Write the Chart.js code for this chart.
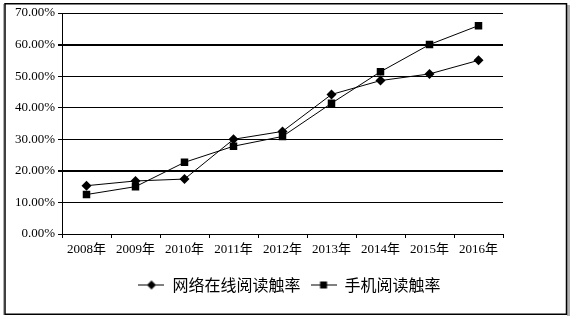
<!DOCTYPE html>
<html>
<head>
<meta charset="utf-8">
<script src="https://cdn.jsdelivr.net/npm/chart.js@4.4.1/dist/chart.umd.min.js"></script>
<style>
  html, body { margin: 0; padding: 0; background: #fff; }
  #c { display: block; }
</style>
</head>
<body>
<canvas id="c" width="579" height="319"></canvas>
<script>
const categories = ['2008年', '2009年', '2010年', '2011年', '2012年', '2013年', '2014年', '2015年', '2016年'];
const seriesNames = ['网络在线阅读触率', '手机阅读触率'];
const onlineReading = [15.3, 16.8, 17.4, 30.0, 32.5, 44.2, 48.6, 50.7, 55.0];
const mobileReading = [12.5, 15.0, 22.7, 27.8, 30.9, 41.4, 51.4, 60.0, 66.0];
const yTicks = [0, 10, 20, 30, 40, 50, 60, 70];

const SERIF = "'Liberation Serif', 'Noto Sans CJK SC', serif";
const CJK = "'Noto Sans CJK SC', sans-serif";

function legendIcon(kind) {
  const cv = document.createElement('canvas');
  cv.width = 26; cv.height = 11;
  const g = cv.getContext('2d');
  g.strokeStyle = '#000'; g.lineWidth = 1;
  g.beginPath(); g.moveTo(0, 5.5); g.lineTo(26, 5.5); g.stroke();
  g.fillStyle = '#000';
  if (kind === 'diamond') {
    g.beginPath(); g.moveTo(13, 1); g.lineTo(17.5, 5.5); g.lineTo(13, 10); g.lineTo(8.5, 5.5); g.closePath(); g.fill();
  } else {
    g.fillRect(9.5, 2, 7, 7);
  }
  return cv;
}
const icons = [legendIcon('diamond'), legendIcon('square')];

const framePlugin = {
  id: 'frame',
  beforeDraw(chart) {
    const c = chart.ctx;
    c.save();
    c.fillStyle = '#fff';
    c.fillRect(0, 0, chart.width, chart.height);
    c.restore();
  },
  afterDraw(chart) {
    const c = chart.ctx;
    c.save();
    c.fillStyle = '#b0b0b0';
    c.fillRect(567, 5, 3, 311);
    c.fillRect(3, 4, 1, 311);
    c.strokeStyle = '#000';
    c.lineWidth = 1.5;
    c.strokeRect(5, 3.75, 561.5, 310.5);
    c.restore();
  }
};

new Chart(document.getElementById('c'), {
  type: 'line',
  data: {
    labels: categories,
    datasets: [
      {
        label: seriesNames[0],
        data: onlineReading,
        borderColor: '#000',
        borderWidth: 1,
        backgroundColor: '#000',
        pointStyle: 'rectRot',
        pointRadius: 5,
        pointHoverRadius: 5,
        pointBackgroundColor: '#000',
        pointBorderColor: '#000',
        pointBorderWidth: 0,
        tension: 0,
        yAxisID: 'y'
      },
      {
        label: seriesNames[1],
        data: mobileReading,
        borderColor: '#000',
        borderWidth: 1,
        backgroundColor: '#000',
        pointStyle: 'rect',
        pointRadius: 5.3,
        pointHoverRadius: 5.3,
        pointBackgroundColor: '#000',
        pointBorderColor: '#000',
        pointBorderWidth: 0,
        tension: 0,
        yAxisID: 'y'
      }
    ]
  },
  options: {
    responsive: false,
    animation: false,
    events: [],
    layout: { padding: { left: 0, right: 0, top: 13, bottom: 16 } },
    plugins: {
      tooltip: { enabled: false },
      title: { display: false },
      legend: {
        display: true,
        position: 'bottom',
        align: 'center',
        labels: {
          usePointStyle: true,
          pointStyleWidth: 26,
          boxHeight: 11,
          padding: 10,
          color: '#000',
          font: { family: CJK, size: 16 },
          generateLabels(chart) {
            return chart.data.datasets.map((ds, i) => ({
              text: ds.label,
              fillStyle: '#000',
              strokeStyle: '#000',
              lineWidth: 0,
              pointStyle: icons[i],
              hidden: false,
              datasetIndex: i,
              fontColor: '#000'
            }));
          }
        }
      }
    },
    scales: {
      x: {
        type: 'category',
        offset: true,
        grid: {
          display: true,
          offset: true,
          drawOnChartArea: false,
          drawTicks: true,
          tickLength: 4,
          color: '#000',
          lineWidth: 1
        },
        border: { display: true, color: '#000', width: 1 },
        ticks: {
          color: '#000',
          font: { family: SERIF, size: 13 },
          padding: 4,
          maxRotation: 0,
          autoSkip: false
        },
        afterFit(scale) { scale.height = 33; }
      },
      y: {
        position: 'left',
        min: 0,
        max: 70,
        afterBuildTicks(scale) { scale.ticks = yTicks.map(v => ({ value: v })); },
        grid: {
          color: '#000',
          lineWidth: (ctx) => (ctx.tick && (ctx.tick.value === 20 || ctx.tick.value === 60)) ? 2 : 1,
          drawTicks: true,
          tickLength: 4
        },
        border: { display: true, color: '#000', width: 1 },
        ticks: {
          color: '#000',
          font: { family: SERIF, size: 13 },
          padding: 3,
          callback: (v) => Number(v).toFixed(2) + '%'
        },
        afterFit(scale) { scale.width = 62; }
      },
      yRight: {
        position: 'right',
        display: true,
        min: 0,
        max: 70,
        grid: { display: false, drawTicks: false },
        border: { display: false },
        ticks: { display: false },
        afterFit(scale) { scale.width = 76; }
      }
    }
  },
  plugins: [framePlugin]
});
</script>
</body>
</html>
